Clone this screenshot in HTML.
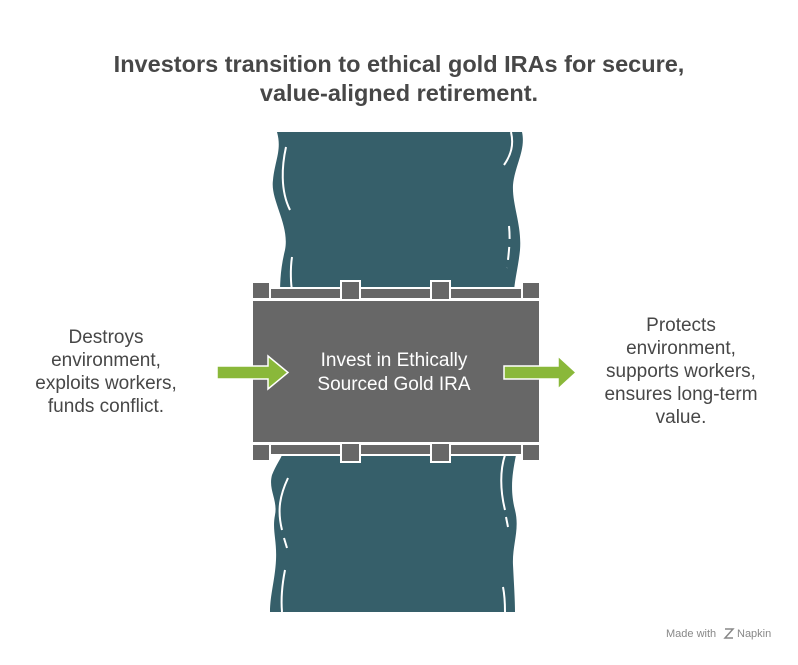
<!DOCTYPE html>
<html><head><meta charset="utf-8"><style>
body{margin:0;background:#fff;width:798px;height:660px;overflow:hidden;font-family:"Liberation Sans",Arial,sans-serif;}
</style></head><body>
<svg width="798" height="660" viewBox="0 0 798 660" xmlns="http://www.w3.org/2000/svg" font-family="Liberation Sans, Arial, sans-serif">
<text x="399" y="72" text-anchor="middle" font-size="23.5" font-weight="bold" fill="#474747">Investors transition to ethical gold IRAs for secure,</text>
<text x="399" y="101" text-anchor="middle" font-size="23.5" font-weight="bold" fill="#474747">value-aligned retirement.</text>
<!-- river top -->
<path d="M277,132 L522,132 C526,150 515,165 513,185 C512,205 522,225 520,250 C518,270 513,285 514,300 L280,300 C280,285 280,270 285,250 C290,225 270,200 273,180 C275,160 282,150 277,132 Z" fill="#365f6a"/>
<path d="M286,147 C282,165 280,190 290,210" stroke="#fff" stroke-width="2" fill="none"/>
<path d="M292,257 C290,270 291,285 292,290" stroke="#fff" stroke-width="2" fill="none"/>
<path d="M511,132 C514,145 511,155 504,165" stroke="#fff" stroke-width="2" fill="none"/>
<path d="M509,226 C510,236 510,245 507,268" stroke="#fff" stroke-width="2" fill="none" stroke-dasharray="13,8"/>
<!-- river bottom -->
<path d="M282,455 L516,455 C512,475 510,490 515,510 C520,530 512,545 513,565 C514,585 515,600 515,612 L270,612 C270,595 275,580 276,560 C277,540 272,530 275,515 C278,500 268,490 272,475 C276,465 280,460 282,455 Z" fill="#365f6a"/>
<path d="M288,478 C280,495 277,510 282,530" stroke="#fff" stroke-width="2" fill="none"/>
<path d="M284,538 L287,548" stroke="#fff" stroke-width="2" fill="none"/>
<path d="M285,570 C282,585 281,600 282,612" stroke="#fff" stroke-width="2" fill="none"/>
<path d="M505,455 C500,470 500,490 505,510" stroke="#fff" stroke-width="2" fill="none"/>
<path d="M506,517 L508,527" stroke="#fff" stroke-width="2" fill="none"/>
<path d="M503,587 C505,597 505,605 505,612" stroke="#fff" stroke-width="2" fill="none"/>
<!-- bridge -->
<g fill="#676767" stroke="#fff" stroke-width="2">
<rect x="252" y="300" width="288" height="143"/>
<rect x="252" y="282" width="18" height="17"/>
<rect x="522" y="282" width="18" height="17"/>
<rect x="270" y="288" width="72" height="11"/>
<rect x="360" y="288" width="71" height="11"/>
<rect x="450" y="288" width="72" height="11"/>
<rect x="341" y="281" width="19" height="19"/>
<rect x="431" y="281" width="19" height="19"/>
<rect x="252" y="444" width="18" height="17"/>
<rect x="522" y="444" width="18" height="17"/>
<rect x="270" y="444" width="72" height="11"/>
<rect x="360" y="444" width="71" height="11"/>
<rect x="450" y="444" width="72" height="11"/>
<rect x="341" y="443" width="19" height="19"/>
<rect x="431" y="443" width="19" height="19"/>
</g>
<text x="394" y="366" text-anchor="middle" font-size="19" fill="#fff">Invest in Ethically</text>
<text x="394" y="390" text-anchor="middle" font-size="19" fill="#fff">Sourced Gold IRA</text>
<!-- arrows -->
<path d="M217,366 L268,366 L268,356 L288,372.5 L268,389 L268,379 L217,379 Z" fill="#8ab83a" stroke="#fff" stroke-width="1.5"/>
<path d="M504,366 L558,366 L558,356 L576,372.5 L558,389 L558,379 L504,379 Z" fill="#8ab83a" stroke="#fff" stroke-width="1.5"/>
<g font-size="19" fill="#474747" text-anchor="middle">
<text x="106" y="343">Destroys</text>
<text x="106" y="366">environment,</text>
<text x="106" y="389">exploits workers,</text>
<text x="106" y="412">funds conflict.</text>
<text x="681" y="331">Protects</text>
<text x="681" y="354">environment,</text>
<text x="681" y="377">supports workers,</text>
<text x="681" y="400">ensures long-term</text>
<text x="681" y="423">value.</text>
</g>
<text x="666" y="637" font-size="11" fill="#888">Made with</text>
<text x="737" y="637" font-size="11" fill="#888">Napkin</text>
<path d="M725,629 L733,629 L725,638 L733,638" stroke="#888" stroke-width="1.5" fill="none"/>
</svg>
</body></html>
